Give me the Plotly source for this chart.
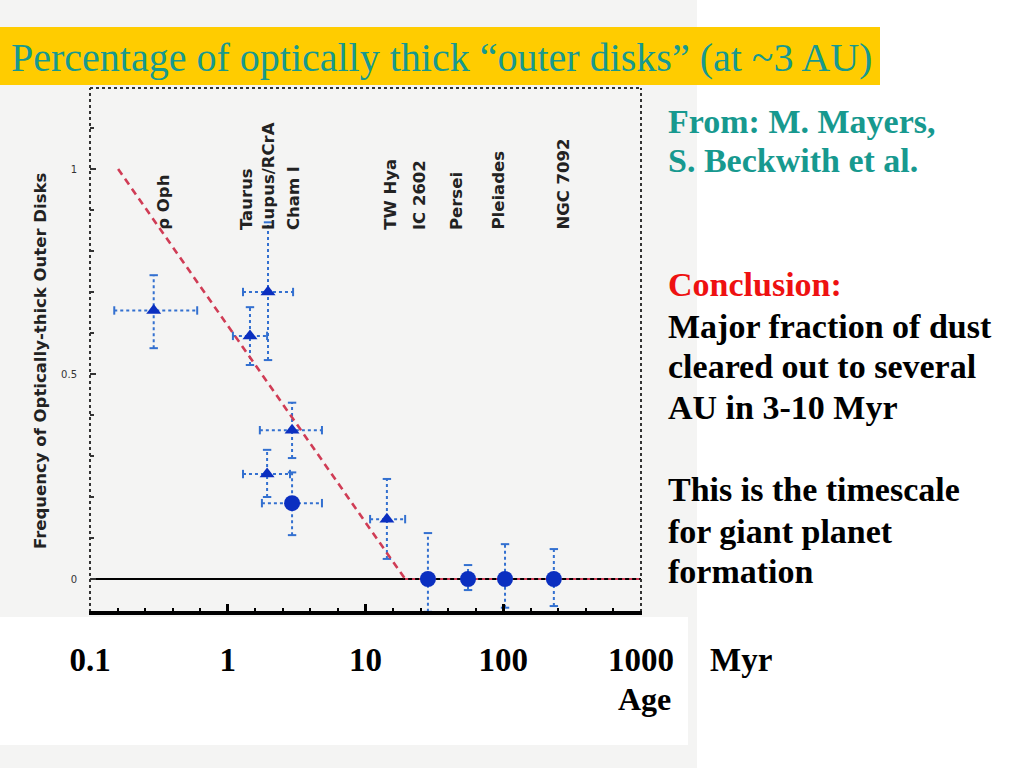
import numpy as np
import plotly.graph_objects as go

# ---------------- data ----------------
x_tick_vals = [0.1, 1, 10, 100, 1000]
x_tick_text = ["0.1", "1", "10", "100", "1000"]
y_tick_vals = [0, 0.5, 1]
y_tick_text = ["0", "0.5", "1"]

cluster_names = ["ρ Oph", "Taurus", "Lupus/RCrA", "Cham I", "TW Hya",
                 "IC 2602", "Persei", "Pleiades", "NGC 7092"]
cluster_label_age = [0.34, 1.38, 1.99, 3.03, 15.1, 24.9, 46.2, 91.6, 272]

age = [0.29, 1.45, 1.96, 2.93, 1.93, 2.93, 14.3, 28.4, 55.5, 103, 233]
age_lo = [0.15, 1.09, 1.29, 1.71, 1.29, 1.77, 10.8, 28.4, 55.5, 103, 233]
age_hi = [0.60, 1.93, 2.98, 4.83, 2.83, 4.83, 19.4, 28.4, 55.5, 103, 233]
freq = [0.655, 0.593, 0.70, 0.363, 0.256, 0.185, 0.146, 0.0, 0.0, 0.0, 0.0]
freq_lo = [0.563, 0.522, 0.534, 0.295, 0.20, 0.107, 0.049, -0.08, -0.027, -0.07, -0.066]
freq_hi = [0.741, 0.663, 0.87, 0.43, 0.315, 0.26, 0.244, 0.112, 0.034, 0.085, 0.073]
marker_kind = ["tri", "tri", "tri", "tri", "tri", "circ", "tri", "circ", "circ", "circ", "circ"]

fit_age = [0.16, 19.4]
fit_freq = [1.0, 0.0]
flat_age = [19.4, 1000]
flat_freq = [0.0, 0.0]

title_text = "Percentage of optically thick “outer disks” (at ~3 AU)"
y_title = "Frequency of Optically-thick Outer Disks"
side_lines = [
    ("From: M. Mayers,", "#17998f", 132),
    ("S. Beckwith et al.", "#17998f", 172),
    ("Conclusion:", "#ee1111", 295),
    ("Major fraction of dust", "black", 337),
    ("cleared out to several", "black", 378),
    ("AU in 3-10 Myr", "black", 418),
    ("This is the timescale", "black", 500),
    ("for giant planet", "black", 542),
    ("formation", "black", 582),
]

# ---------------- layout geometry ----------------
W, H = 1024, 768
PX_L, PX_R, PX_T, PX_B = 90, 641, 88, 612
Y_RANGE = [-0.0805, 1.1976]


def px(x):
    return x / W


def py(y):
    return 1 - y / H


BLUE = "#0b2fc0"
EBLUE = "#3370d0"
RED = "#d03c55"

fig = go.Figure()

# error bars (dotted)
ex, ey, cx_ns, cy_ns = [], [], [], []
vx, vy, cx_ew, cy_ew = [], [], [], []
for a, alo, ahi, f, flo, fhi in zip(age, age_lo, age_hi, freq, freq_lo, freq_hi):
    if ahi > alo:
        ex += [alo, ahi, None]
        ey += [f, f, None]
        cx_ns += [alo, ahi]
        cy_ns += [f, f]
    vx += [a, a, None]
    vy += [flo, fhi, None]
    cx_ew += [a, a]
    cy_ew += [flo, fhi]

fig.add_trace(go.Scatter(x=ex, y=ey, mode="lines",
                         line=dict(color=EBLUE, width=2, dash="dot"),
                         hoverinfo="skip", showlegend=False))
fig.add_trace(go.Scatter(x=vx, y=vy, mode="lines",
                         line=dict(color=EBLUE, width=2, dash="dot"),
                         hoverinfo="skip", showlegend=False))
fig.add_trace(go.Scatter(x=cx_ns, y=cy_ns, mode="markers",
                         marker=dict(symbol="line-ns", size=6,
                                     line=dict(color=EBLUE, width=2)),
                         hoverinfo="skip", showlegend=False))
fig.add_trace(go.Scatter(x=cx_ew, y=cy_ew, mode="markers",
                         marker=dict(symbol="line-ew", size=6,
                                     line=dict(color=EBLUE, width=2)),
                         hoverinfo="skip", showlegend=False))

# fit line
fig.add_trace(go.Scatter(x=fit_age, y=fit_freq, mode="lines",
                         line=dict(color=RED, width=2.6, dash="7px,5px"),
                         hoverinfo="skip", showlegend=False))
fig.add_trace(go.Scatter(x=flat_age, y=flat_freq, mode="lines",
                         line=dict(color=RED, width=2, dash="3px,4px"),
                         hoverinfo="skip", showlegend=False))

# markers
tri_x = [a for a, k in zip(age, marker_kind) if k == "tri"]
tri_y = [f for f, k in zip(freq, marker_kind) if k == "tri"]
cir_x = [a for a, k in zip(age, marker_kind) if k == "circ"]
cir_y = [f for f, k in zip(freq, marker_kind) if k == "circ"]
fig.add_trace(go.Scatter(x=tri_x, y=tri_y, mode="markers",
                         marker=dict(symbol="triangle-up", size=13, color=BLUE),
                         showlegend=False))
fig.add_trace(go.Scatter(x=cir_x, y=cir_y, mode="markers",
                         marker=dict(symbol="circle", size=16, color=BLUE),
                         showlegend=False))

# ---------------- shapes ----------------
shapes = [
    # scanned page background
    dict(type="rect", xref="paper", yref="paper", x0=0, x1=px(697), y0=0, y1=1,
         fillcolor="#f4f4f3", line=dict(width=0), layer="below"),
    # white label strip
    dict(type="rect", xref="paper", yref="paper", x0=0, x1=px(688), y0=py(745), y1=py(617),
         fillcolor="white", line=dict(width=0), layer="below"),
    # yellow title bar
    dict(type="rect", xref="paper", yref="paper", x0=0, x1=px(880), y0=py(85), y1=py(27),
         fillcolor="#ffcc00", line=dict(width=0), layer="below"),
    # dotted frame
    dict(type="line", xref="paper", yref="paper", x0=px(PX_L), x1=px(PX_L), y0=py(PX_B), y1=py(PX_T),
         line=dict(color="#333", width=2, dash="dot")),
    dict(type="line", xref="paper", yref="paper", x0=px(PX_L), x1=px(PX_R), y0=py(PX_T), y1=py(PX_T),
         line=dict(color="#333", width=2, dash="dot")),
    dict(type="line", xref="paper", yref="paper", x0=px(PX_R), x1=px(PX_R), y0=py(PX_B), y1=py(PX_T),
         line=dict(color="#333", width=2, dash="dot")),
    # thick bottom axis
    dict(type="line", xref="paper", yref="paper", x0=px(PX_L - 1), x1=px(PX_R + 1), y0=py(PX_B + 1), y1=py(PX_B + 1),
         line=dict(color="black", width=4)),
    # zero line
    dict(type="line", xref="paper", yref="y", x0=px(PX_L), x1=px(PX_R), y0=0, y1=0,
         line=dict(color="black", width=2), layer="below"),
]

# ---------------- annotations ----------------
ann = []
ann.append(dict(text=title_text, xref="paper", yref="paper", x=px(9), y=py(57),
                xanchor="left", yanchor="middle", showarrow=False,
                font=dict(family="Liberation Serif", size=40, color="#17998f")))
for name, la in zip(cluster_names, cluster_label_age):
    ann.append(dict(text=name, xref="x", yref="paper", x=np.log10(la), y=py(232),
                    xanchor="center", yanchor="bottom", textangle=-90, showarrow=False,
                    font=dict(family="DejaVu Sans", size=16.5, color="#222", weight="bold")))
ann.append(dict(text=y_title, xref="paper", yref="paper", x=px(41), y=py(361),
                xanchor="center", yanchor="middle", textangle=-90, showarrow=False,
                font=dict(family="DejaVu Sans", size=16.5, color="#222", weight="bold")))
for txt, col, base in side_lines:
    ann.append(dict(text=txt, xref="paper", yref="paper", x=px(666), y=py(base - 11),
                    xanchor="left", yanchor="middle", showarrow=False,
                    font=dict(family="Liberation Serif", size=34, color=col, weight="bold")))
ann.append(dict(text="Myr", xref="paper", yref="paper", x=px(708), y=py(660),
                xanchor="left", yanchor="middle", showarrow=False,
                font=dict(family="Liberation Serif", size=33, color="black", weight="bold")))
ann.append(dict(text="Age", xref="paper", yref="paper", x=px(616), y=py(699),
                xanchor="left", yanchor="middle", showarrow=False,
                font=dict(family="Liberation Serif", size=32, color="black", weight="bold")))

minor_x = [10 ** (k / 5) for k in range(-5, 16) if k % 5 != 0]
all_x = [10 ** (k / 5) for k in range(-5, 16)]

fig.update_layout(
    width=W, height=H, margin=dict(l=0, r=0, t=0, b=0, pad=0, autoexpand=False),
    paper_bgcolor="white", plot_bgcolor="rgba(0,0,0,0)",
    showlegend=False,
    shapes=shapes, annotations=ann,
    xaxis=dict(type="log", range=[-1, 3], domain=[px(PX_L), px(PX_R)], anchor="y",
               automargin=False,
               showline=False, showgrid=False, zeroline=False,
               ticks="inside", ticklen=8, tickwidth=3, tickcolor="black",
               tickvals=x_tick_vals, ticktext=x_tick_text, ticklabelstandoff=25,
               tickfont=dict(family="Liberation Serif", size=33, color="black", weight="bold"),
               minor=dict(tickvals=minor_x, ticks="inside", ticklen=4, tickwidth=2,
                          tickcolor="black", showgrid=False)),
    xaxis2=dict(type="log", range=[-1, 3], domain=[px(PX_L), px(PX_R)], overlaying="x",
                side="top", anchor="y", automargin=False,
                showline=False, showgrid=False, zeroline=False,
                ticks="inside", ticklen=5, tickwidth=1.5, tickcolor="#333",
                tickvals=all_x, showticklabels=False),
    yaxis=dict(range=Y_RANGE, domain=[py(PX_B), py(PX_T)], anchor="x", automargin=False,
               showline=False, showgrid=False, zeroline=False,
               ticks="inside", ticklen=6, tickwidth=1.5, tickcolor="#333",
               tickvals=y_tick_vals, ticktext=y_tick_text, ticklabelstandoff=12,
               tickfont=dict(family="DejaVu Sans", size=10, color="#333"),
               minor=dict(dtick=0.1, ticks="inside", ticklen=4, tickwidth=1.5,
                          tickcolor="#333", showgrid=False)),
    yaxis2=dict(range=Y_RANGE, domain=[py(PX_B), py(PX_T)], overlaying="y", side="right",
                anchor="x", automargin=False,
                showline=False, showgrid=False, zeroline=False,
                ticks="inside", ticklen=5, tickwidth=1.5, tickcolor="#333",
                dtick=0.1, showticklabels=False),
)

fig.write_html("out.html", config={"displayModeBar": False},
               post_script="document.body.style.margin='0';document.body.style.overflow='hidden';")
